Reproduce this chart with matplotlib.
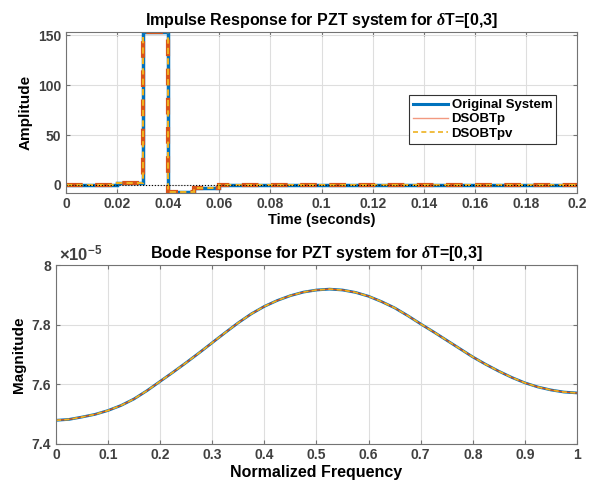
import matplotlib
matplotlib.use("Agg")
from matplotlib import pyplot as plt
from matplotlib.lines import Line2D
from matplotlib.ticker import FuncFormatter
import numpy as np

plt.rcParams['font.family'] = ['Liberation Sans', 'DejaVu Sans']
plt.rcParams['font.weight'] = 'bold'
plt.rcParams['mathtext.fontset'] = 'custom'
plt.rcParams['mathtext.it'] = 'Liberation Serif:italic'
plt.rcParams['mathtext.rm'] = 'Liberation Sans:bold'

### Data

# Impulse response (piecewise constant, edges in seconds)
impulse_edges = [0, 0.02, 0.03, 0.04, 0.05, 0.06, 0.2]
impulse_values = [-0.3, 2.0, 153.0, -6.6, -3.5, 0.3]

# Bode magnitude (x 1e-5) vs normalized frequency
freq = [0, 0.025, 0.05, 0.075, 0.1, 0.125, 0.15, 0.175, 0.2, 0.225, 0.25,
        0.275, 0.3, 0.325, 0.35, 0.375, 0.4, 0.425, 0.45, 0.475, 0.5, 0.525,
        0.55, 0.575, 0.6, 0.625, 0.65, 0.675, 0.7, 0.725, 0.75, 0.775, 0.8,
        0.825, 0.85, 0.875, 0.9, 0.925, 0.95, 0.975, 1.0]
magnitude = [7.478, 7.481, 7.489, 7.498, 7.511, 7.528, 7.550, 7.578, 7.609,
             7.640, 7.672, 7.705, 7.739, 7.773, 7.806, 7.836, 7.861, 7.881,
             7.897, 7.909, 7.916, 7.919, 7.916, 7.908, 7.895, 7.877, 7.856,
             7.830, 7.802, 7.775, 7.747, 7.719, 7.691, 7.666, 7.643, 7.622,
             7.604, 7.590, 7.580, 7.573, 7.570]

series = ["Original System", "DSOBTp", "DSOBTpv"]

### Styles
blue = (0, 0.447, 0.741)
orange = (0.85, 0.325, 0.098)
yellow = (0.929, 0.694, 0.125)
spine_col = '0.45'
tick_col = '0.25'


def style_axes(ax):
    for s in ax.spines.values():
        s.set_color(spine_col)
        s.set_linewidth(0.8)
    ax.tick_params(direction='in', top=True, right=True, length=3,
                   colors=spine_col, labelcolor=tick_col, labelsize=10)
    ax.grid(True, color='0.87', linewidth=0.8)
    ax.set_axisbelow(True)


fig = plt.figure(figsize=(6.02, 4.93), dpi=100)

### Impulse response
ax1 = fig.add_axes([0.1096, 0.6095, 0.849, 0.3256])
ax1.axhline(0, color='k', linestyle=':', linewidth=0.8)
ax1.stairs(impulse_values, impulse_edges, baseline=None, color=blue, linewidth=2.5)
ax1.stairs(impulse_values, impulse_edges, baseline=None, color=orange,
           linewidth=3, linestyle=(0, (4, 3)))
ax1.stairs(impulse_values, impulse_edges, baseline=None, color=yellow,
           linewidth=1.5, linestyle=(0, (3, 2)))
ax1.set_xlim(0, 0.2)
ax1.set_ylim(-7.6, 153.4)
ax1.set_xticks(np.arange(0, 0.21, 0.02))
ax1.set_yticks([0, 50, 100, 150])
ax1.xaxis.set_major_formatter(FuncFormatter(lambda v, p: f"{v:g}"))
style_axes(ax1)
ax1.set_xlabel("Time (seconds)", fontsize=10.5, fontweight='bold', labelpad=1)
ax1.set_ylabel("Amplitude", fontsize=11, fontweight='bold')
ax1.set_title(r"Impulse Response for PZT system for $\delta$T=[0,3]",
              fontsize=11.5, fontweight='bold', pad=5)

handles = [Line2D([], [], color=blue, linewidth=2.2),
           Line2D([], [], color=(0.95, 0.6, 0.5), linewidth=1),
           Line2D([], [], color=yellow, linewidth=1.2, linestyle=(0, (3, 2)))]
leg = ax1.legend(handles, series, loc='upper right',
                 bbox_to_anchor=(0.959, 0.607), borderaxespad=0,
                 fancybox=False, framealpha=1, edgecolor='0.2',
                 prop={'weight': 'bold', 'size': 9.5},
                 handlelength=2.6, handletextpad=0.3, labelspacing=0.15,
                 borderpad=0.3)
leg.get_frame().set_linewidth(0.8)

### Bode response
ax2 = fig.add_axes([0.093, 0.1004, 0.8654, 0.362])
ax2.plot(freq, magnitude, color=blue, linewidth=2.0)
ax2.plot(freq, magnitude, color=orange, linewidth=1)
ax2.plot(freq, magnitude, color=yellow, linewidth=1.2, linestyle=(0, (3, 2)))
ax2.set_xlim(0, 1)
ax2.set_ylim(7.4, 8)
ax2.set_xticks(np.arange(0, 1.01, 0.1))
ax2.set_yticks([7.4, 7.6, 7.8, 8])
ax2.xaxis.set_major_formatter(FuncFormatter(lambda v, p: f"{v:g}"))
ax2.yaxis.set_major_formatter(FuncFormatter(lambda v, p: f"{v:g}"))
style_axes(ax2)
ax2.set_xlabel("Normalized Frequency", fontsize=11.5, fontweight='bold', labelpad=2)
ax2.set_ylabel("Magnitude", fontsize=11, fontweight='bold')
ax2.set_title(r"Bode Response for PZT system for $\delta$T=[0,3]",
              fontsize=11.5, fontweight='bold', pad=5)
ax2.text(0.005, 1.01, r"$\times\mathregular{10^{-5}}$", transform=ax2.transAxes,
         fontsize=12, color=tick_col, ha='left', va='bottom')

fig.canvas.draw()
for ax in (ax1, ax2):
    for lab in ax.get_xticklabels() + ax.get_yticklabels():
        lab.set_fontweight('bold')

fig.savefig("out.png", dpi=100)
